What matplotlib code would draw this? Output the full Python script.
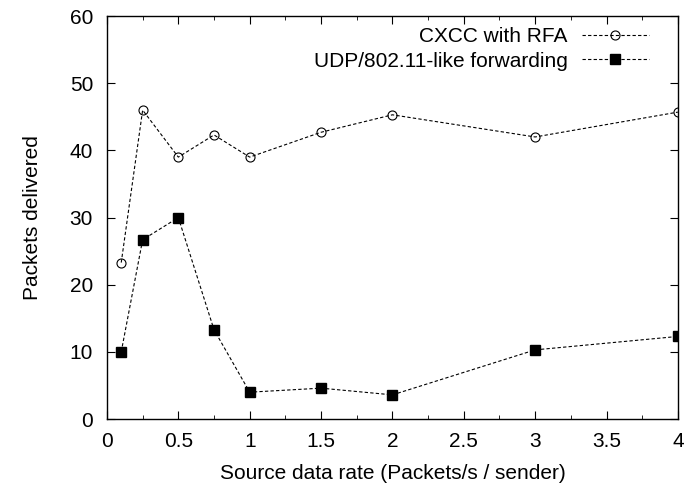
import matplotlib
matplotlib.use("Agg")
import matplotlib.pyplot as plt
from matplotlib.ticker import MultipleLocator

plt.rcParams['font.family'] = ['Liberation Sans', 'DejaVu Sans']

rate = [0.1, 0.25, 0.5, 0.75, 1, 1.5, 2, 3, 4]
cxcc = [23.3, 46, 39, 42.3, 39, 42.7, 45.3, 42, 45.7]
udp = [10, 26.7, 30, 13.3, 4, 4.6, 3.6, 10.3, 12.3]

fig = plt.figure(figsize=(6.87, 4.93), dpi=100)
ax = fig.add_axes([0.1557, 0.150, 0.831, 0.8174])

ax.plot(rate, cxcc, color='black', linestyle=(0, (3, 2)), linewidth=0.8,
        marker='o', markersize=6.5, markerfacecolor='none', markeredgewidth=0.8,
        label='CXCC with RFA')
ax.plot(rate, udp, color='black', linestyle=(0, (3, 2)), linewidth=0.8,
        marker='s', markersize=7, markerfacecolor='black',
        label='UDP/802.11-like forwarding')

ax.set_xlim(0, 4)
ax.set_ylim(0, 60)
ax.xaxis.set_major_locator(MultipleLocator(0.5))
ax.xaxis.set_minor_locator(MultipleLocator(0.25))
ax.yaxis.set_major_locator(MultipleLocator(10))
ax.tick_params(which='both', direction='in', top=True, right=True, labelsize=15)
ax.tick_params(which='major', length=6)
ax.tick_params(which='minor', length=3)
ax.tick_params(axis='x', which='major', pad=9)
ax.tick_params(axis='y', which='major', pad=10)
ax.xaxis.set_major_formatter(plt.FuncFormatter(lambda v, p: f'{v:g}'))
for s in ax.spines.values():
    s.set_linewidth(1.0)

ax.set_xlabel('Source data rate (Packets/s / sender)', fontsize=15, labelpad=10)
ax.set_ylabel('Packets delivered', fontsize=15, labelpad=20)

ax.legend(loc='upper right', frameon=False, markerfirst=False, fontsize=15,
          handlelength=3.2, handletextpad=0.7, borderpad=0, borderaxespad=0,
          labelspacing=0.25, bbox_to_anchor=(0.949, 0.972))

fig.savefig('out.png', dpi=100)
